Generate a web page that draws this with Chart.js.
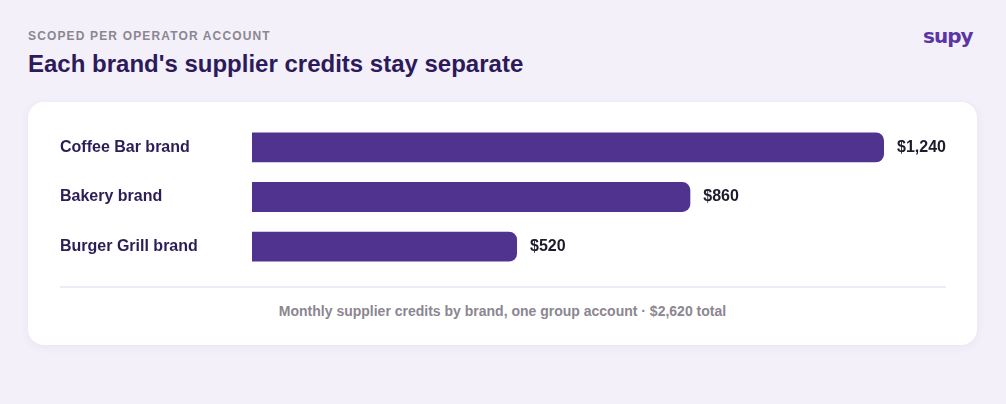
<!DOCTYPE html>
<html>
<head>
<meta charset="utf-8">
<script src="https://cdn.jsdelivr.net/npm/chart.js@4/dist/chart.umd.min.js"></script>
<style>
  html, body { margin: 0; padding: 0; }
  body {
    width: 1006px; height: 404px; overflow: hidden;
    background: #f3f0fa;
    font-family: "Liberation Sans", Arial, sans-serif;
    position: relative;
  }
  .eyebrow {
    position: absolute; left: 28px; top: 29px;
    font-size: 12px; font-weight: bold; letter-spacing: 1.15px;
    color: #8b8690;
  }
  .title {
    position: absolute; left: 28px; top: 50px;
    font-size: 24px; font-weight: bold; color: #2c1a5a;
  }
  .logo {
    position: absolute; left: 923px; top: 24px;
    font-family: "DejaVu Sans", sans-serif;
    font-size: 20px; font-weight: bold; color: #5b35a6; letter-spacing: -1px;
  }
  .card {
    position: absolute; left: 28px; top: 102px; width: 949px; height: 243px;
    background: #fff; border-radius: 16px;
    box-shadow: 0 2px 10px rgba(70, 50, 130, 0.06);
  }
  .chart-wrap { position: absolute; left: 32px; top: 11px; width: 886px; height: 168px; }
  .divider { position: absolute; left: 32px; top: 184px; width: 886px; height: 2px; background: #eeebf9; }
  .note {
    position: absolute; left: 0; right: 0; top: 201px; text-align: center;
    font-size: 14px; font-weight: bold; color: #8b8690;
  }
</style>
</head>
<body>
<div class="eyebrow">SCOPED PER OPERATOR ACCOUNT</div>
<div class="title">Each brand's supplier credits stay separate</div>
<div class="logo">supy</div>
<div class="card">
  <div class="chart-wrap"><canvas id="brand-credits-id"></canvas></div>
  <div class="divider"></div>
  <div class="note">Monthly supplier credits by brand, one group account · $2,620 total</div>
</div>
<script>
// data
const brands = ['Coffee Bar brand', 'Bakery brand', 'Burger Grill brand'];
const credits = [1240, 860, 520];

// value labels at the end of each bar
const valueLabels = {
  id: 'valueLabels',
  afterDatasetsDraw(chart) {
    const ctx = chart.ctx;
    const meta = chart.getDatasetMeta(0);
    ctx.save();
    ctx.font = 'bold 16px "Liberation Sans", Arial, sans-serif';
    ctx.fillStyle = '#1d1b2c';
    ctx.textAlign = 'left';
    ctx.textBaseline = 'middle';
    meta.data.forEach((bar, i) => {
      ctx.fillText('$' + credits[i].toLocaleString('en-US'), bar.x + 13, bar.y);
    });
    ctx.restore();
  }
};

const creditsCtx = document.getElementById('brand-credits-id');
if (creditsCtx) {
  new Chart(creditsCtx, {
    type: 'bar',
    data: {
      labels: brands,
      datasets: [{
        data: credits,
        backgroundColor: '#4f338f',
        borderRadius: { topLeft: 0, bottomLeft: 0, topRight: 8, bottomRight: 8 },
        borderSkipped: false,
        barPercentage: 0.6,
        categoryPercentage: 1
      }]
    },
    options: {
      indexAxis: 'y',
      responsive: true,
      maintainAspectRatio: false,
      animation: false,
      layout: { padding: { left: 0, right: 62, top: 0, bottom: 0 } },
      plugins: {
        legend: { display: false },
        tooltip: { enabled: false }
      },
      scales: {
        x: {
          display: false,
          min: 0,
          max: 1240
        },
        y: {
          grid: { display: false, drawTicks: false },
          border: { display: false },
          afterFit: (scale) => { scale.width = 192; },
          ticks: {
            crossAlign: 'far',
            padding: 0,
            color: '#2b1d55',
            font: { family: '"Liberation Sans", Arial, sans-serif', size: 16, weight: 'bold' }
          }
        }
      }
    },
    plugins: [valueLabels]
  });
}
</script>
</body>
</html>
